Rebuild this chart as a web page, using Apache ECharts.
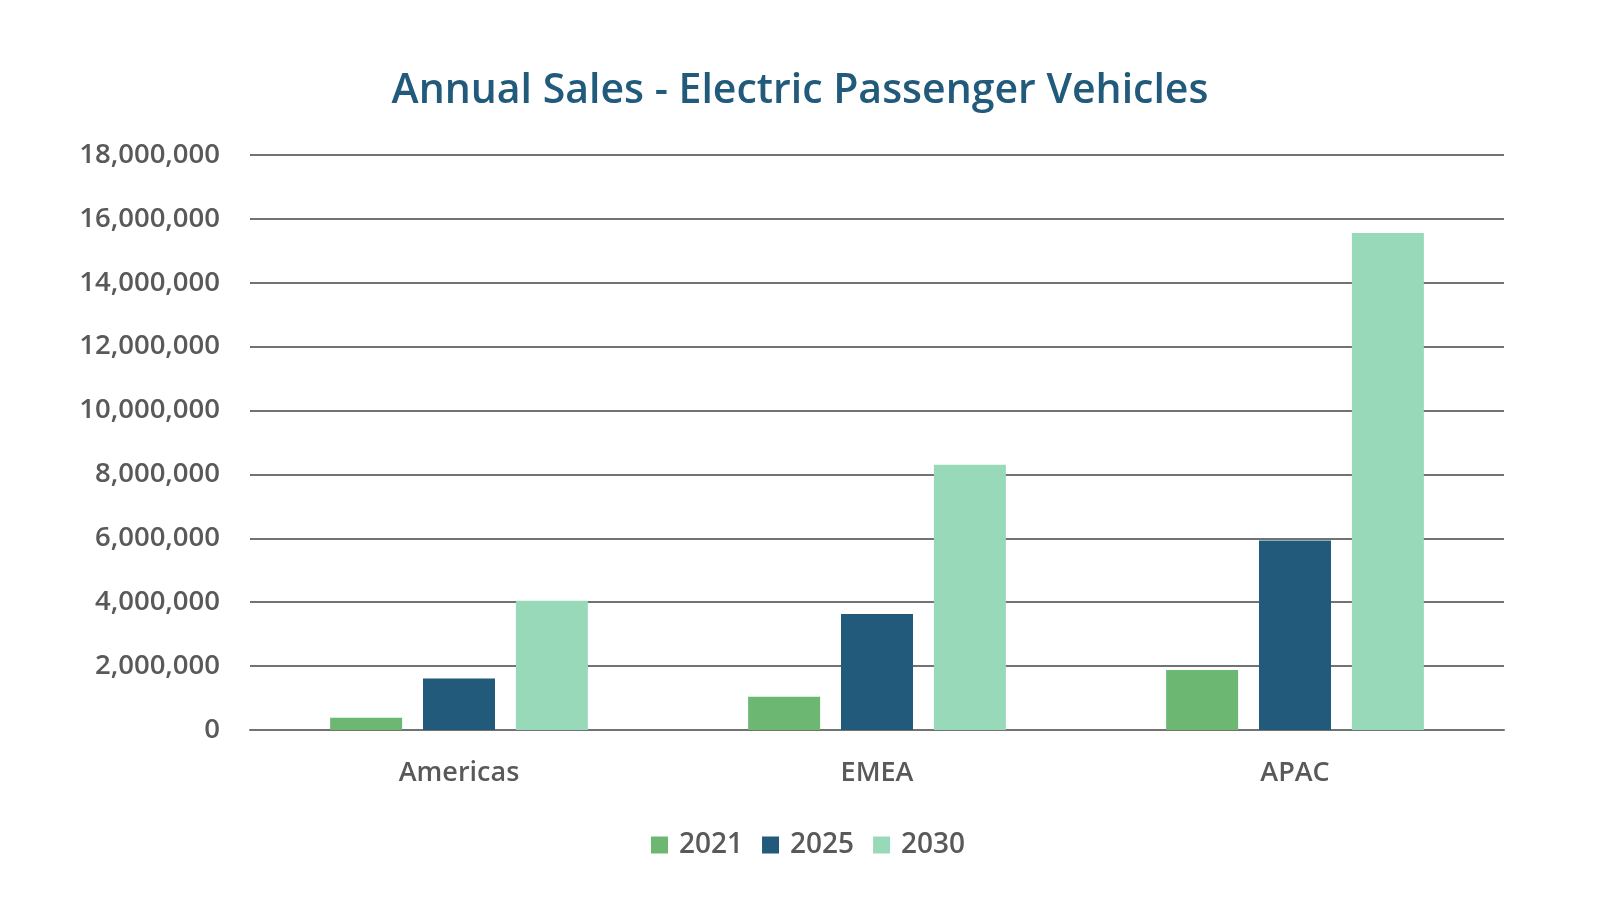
<!DOCTYPE html>
<html>
<head>
<meta charset="utf-8">
<title>Annual Sales - Electric Passenger Vehicles</title>
<script src="https://cdn.jsdelivr.net/npm/echarts@6/dist/echarts.min.js"></script>
<style>
  html, body { margin: 0; padding: 0; background: #ffffff; }
  #chart { width: 1600px; height: 921px; }
</style>
</head>
<body>
<div id="chart"></div>
<script>
const regions = ['Americas', 'EMEA', 'APAC'];
const years = ['2021', '2025', '2030'];
const sales2021 = [380000, 1040000, 1880000];
const sales2025 = [1610000, 3630000, 5930000];
const sales2030 = [4050000, 8300000, 15560000];
const yearColors = ['#6cb873', '#215a7b', '#98d9b9'];

const font = '"Open Sans", "Noto Sans", sans-serif';
const textGray = '#595959';
const lineGray = '#727272';

const chart = echarts.init(document.getElementById('chart'));

const seriesData = [sales2021, sales2025, sales2030];

const option = {
    backgroundColor: '#ffffff',
    animation: false,
    title: {
        text: 'Annual Sales - Electric Passenger Vehicles',
        left: 'center',
        top: 66,
        textStyle: {
            fontFamily: font,
            fontSize: 41,
            fontWeight: 600,
            color: '#215a7b'
        }
    },
    legend: {
        data: years,
        left: 646,
        top: 826,
        itemWidth: 17,
        itemHeight: 17,
        itemGap: 19,
        icon: 'rect',
        textStyle: {
            fontFamily: font,
            fontSize: 28,
            fontWeight: 600,
            color: textGray,
            padding: [0, 0, 0, 6]
        }
    },
    grid: {
        left: 250,
        right: 96,
        top: 155,
        bottom: 191,
        containLabel: false
    },
    xAxis: {
        type: 'category',
        data: regions,
        axisLine: { show: true, lineStyle: { color: lineGray, width: 2 } },
        axisTick: { show: false },
        axisLabel: {
            margin: 30,
            fontFamily: font,
            fontSize: 27,
            fontWeight: 600,
            color: textGray
        }
    },
    yAxis: {
        type: 'value',
        min: 0,
        max: 18000000,
        interval: 2000000,
        axisLine: { show: false },
        axisTick: { show: false },
        splitLine: { lineStyle: { color: lineGray, width: 2 } },
        axisLabel: {
            margin: 30,
            fontFamily: font,
            fontSize: 27.5,
            fontWeight: 600,
            color: textGray,
            formatter: function (v) {
                return v.toString().replace(/\B(?=(\d{3})+(?!\d))/g, ',');
            }
        }
    },
    series: years.map(function (y, i) {
        return {
            name: y,
            type: 'bar',
            data: seriesData[i],
            barWidth: 72,
            barGap: '29%',
            itemStyle: { color: yearColors[i] }
        };
    })
};

chart.setOption(option);
</script>
</body>
</html>
